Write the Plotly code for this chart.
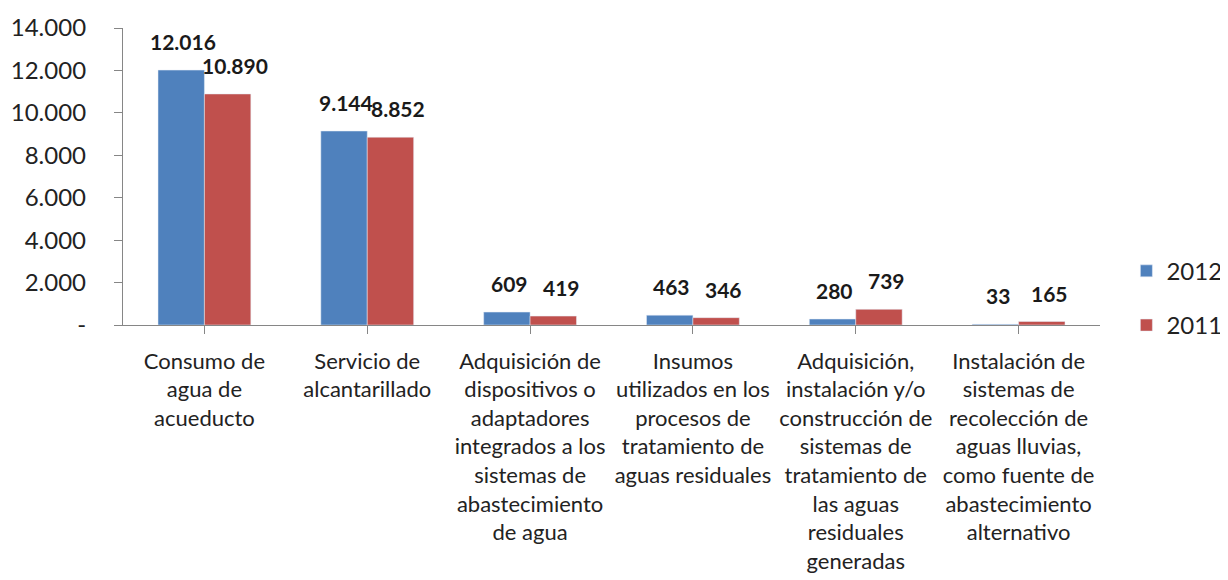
import plotly.graph_objects as go

categories = [
    "Consumo de<br>agua de<br>acueducto",
    "Servicio de<br>alcantarillado",
    "Adquisición de<br>dispositivos o<br>adaptadores<br>integrados a los<br>sistemas de<br>abastecimiento<br>de agua",
    "Insumos<br>utilizados en los<br>procesos de<br>tratamiento de<br>aguas residuales",
    "Adquisición,<br>instalación y/o<br>construcción de<br>sistemas de<br>tratamiento de<br>las aguas<br>residuales<br>generadas",
    "Instalación de<br>sistemas de<br>recolección de<br>aguas lluvias,<br>como fuente de<br>abastecimiento<br>alternativo",
]
values_2012 = [12016, 9144, 609, 463, 280, 33]
values_2011 = [10890, 8852, 419, 346, 739, 165]
ytick_vals = [0, 2000, 4000, 6000, 8000, 10000, 12000, 14000]
ytick_text = ["-", "2.000", "4.000", "6.000", "8.000", "10.000", "12.000", "14.000"]

FONT = "Lato"
BLUE = "#4F81BD"
RED = "#C0504D"
AXIS = "#868686"


def fmt(v):
    return f"{v:,}".replace(",", ".")


x_idx = list(range(len(categories)))

fig = go.Figure()
fig.add_trace(go.Bar(x=x_idx, y=values_2012, name="2012", marker_color=BLUE,
                     legendgroup="a"))
fig.add_trace(go.Bar(x=x_idx, y=values_2011, name="2011", marker_color=RED,
                     legendgroup="b"))

annotations = []
for i in x_idx:
    for vals, shift in ((values_2012, -21), (values_2011, 31)):
        annotations.append(dict(
            x=i, y=vals[i], xref="x", yref="y", text=fmt(vals[i]),
            showarrow=False, xshift=shift, yshift=14, yanchor="bottom",
            font=dict(family=FONT, size=21, color="#1a1a1a", weight="bold"),
        ))

fig.update_layout(
    width=1220, height=572,
    margin=dict(l=115, r=128, t=20, b=255, autoexpand=False),
    plot_bgcolor="white", paper_bgcolor="white",
    barmode="group", bargap=0.43, bargroupgap=0,
    font=dict(family=FONT, color="#222222"),
    showlegend=True,
    legend=dict(x=1.027, y=0.09, xanchor="left", yanchor="middle",
                font=dict(family=FONT, size=24, color="#222222"),
                tracegroupgap=20, itemwidth=30,
                bgcolor="rgba(0,0,0,0)"),
    annotations=annotations,
)
fig.update_xaxes(
    tickmode="array", tickvals=x_idx, ticktext=categories,
    range=[-0.5, len(categories) - 0.5], automargin=False,
    showline=True, linecolor=AXIS, linewidth=1.3,
    ticks="outside", tickson="boundaries", ticklen=8, tickcolor=AXIS,
    ticklabelstandoff=8,
    tickangle=0, tickfont=dict(family=FONT, size=22, color="#222222"),
    showgrid=False, zeroline=False,
)
fig.update_yaxes(
    range=[0, 14000], tickmode="array", tickvals=ytick_vals, ticktext=ytick_text,
    automargin=False,
    showline=True, linecolor=AXIS, linewidth=1.3,
    ticks="outside", ticklen=8, tickcolor=AXIS, ticklabelstandoff=23,
    tickfont=dict(family=FONT, size=24, color="#222222"),
    showgrid=False, zeroline=False,
)

fig.write_html("out.html")
